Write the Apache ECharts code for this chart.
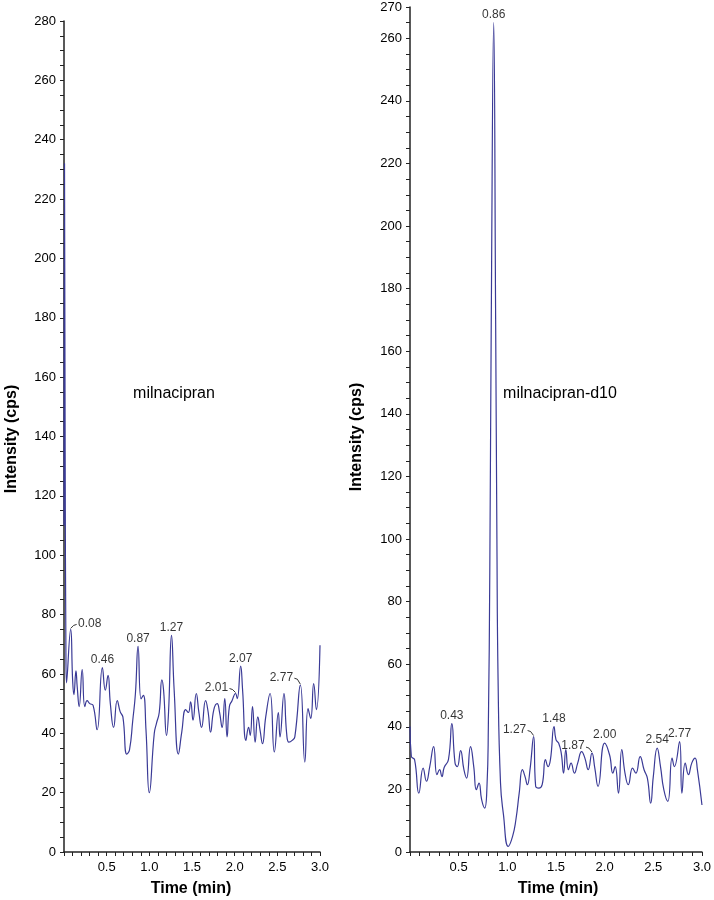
<!DOCTYPE html>
<html>
<head>
<meta charset="utf-8">
<title>milnacipran chromatograms</title>
<script src="https://cdn.jsdelivr.net/npm/echarts@6/dist/echarts.min.js"></script>
<style>
  html, body { margin: 0; padding: 0; background: #fff; }
  #chart { width: 714px; height: 900px; }
</style>
</head>
<body>
<div id="chart"></div>
<script>
// time axis ticks (min)
var timeTicks = [0.5, 1.0, 1.5, 2.0, 2.5, 3.0];

// milnacipran trace
var leftTime = [0, 0.006, 0.014, 0.022, 0.03, 0.078, 0.101, 0.116, 0.14, 0.155, 0.178, 0.213, 0.244, 0.271, 0.302,
    0.341, 0.388, 0.45, 0.484, 0.516, 0.543, 0.581, 0.624, 0.659, 0.69, 0.736, 0.767, 0.806, 0.837, 0.868,
    0.903, 0.93, 0.961, 1.0, 1.058, 1.085, 1.116, 1.147, 1.167, 1.202, 1.225, 1.26, 1.291, 1.341, 1.38,
    1.426, 1.457, 1.484, 1.512, 1.55, 1.581, 1.612, 1.659, 1.69, 1.717, 1.756, 1.795, 1.822, 1.853, 1.884,
    1.911, 1.938, 1.969, 2.01, 2.03, 2.07, 2.093, 2.132, 2.163, 2.182, 2.209, 2.24, 2.271, 2.298, 2.326,
    2.364, 2.415, 2.465, 2.512, 2.531, 2.578, 2.609, 2.636, 2.674, 2.705, 2.77, 2.822, 2.86, 2.891, 2.926,
    2.957, 3.0];
var leftIntensity = [110, 232, 130, 70, 57, 75, 58, 53, 61, 55.6, 49, 61.5, 49, 51, 50,
    49.4, 41.2, 62.1, 54.5, 59.5, 50, 42, 51, 47.2, 45.5, 33, 34.3, 44.4, 53.4, 69.3,
    51.6, 52.8, 41, 20, 40, 43.5, 47, 58, 54.5, 39.3, 47, 73, 54.5, 33, 40.4,
    48, 47, 50.6, 44.4, 53.4, 47, 42, 51, 47, 40.4, 48, 50, 47.2, 42, 51.7,
    38.8, 49, 51, 53.4, 51.7, 62.6, 54.5, 37.6, 42, 39.3, 49, 37, 45.5, 41, 36.5,
    45.5, 53.4, 33.7, 47, 38.8, 53.4, 40, 37, 37.6, 38.8, 56.2, 30.3, 48.3, 45, 56.7,
    48, 69.7];

// milnacipran-d10 trace
var rightTime = [0, 0.014, 0.047, 0.091, 0.135, 0.169, 0.203, 0.243, 0.277, 0.304, 0.328, 0.351, 0.395, 0.43, 0.463,
    0.486, 0.52, 0.554, 0.581, 0.622, 0.655, 0.682, 0.709, 0.736, 0.767, 0.791, 0.805, 0.82, 0.835, 0.86,
    0.88, 0.893, 0.905, 0.93, 0.96, 1.01, 1.054, 1.088, 1.122, 1.155, 1.182, 1.206, 1.233, 1.27, 1.291,
    1.324, 1.358, 1.392, 1.419, 1.443, 1.48, 1.5, 1.527, 1.554, 1.578, 1.601, 1.628, 1.655, 1.689, 1.723,
    1.764, 1.797, 1.831, 1.87, 1.899, 1.932, 2.0, 2.051, 2.084, 2.108, 2.142, 2.176, 2.209, 2.243, 2.287,
    2.321, 2.365, 2.405, 2.439, 2.473, 2.5, 2.54, 2.574, 2.608, 2.649, 2.693, 2.716, 2.77, 2.794, 2.828,
    2.861, 2.895, 2.929, 2.953, 3.0];
var rightIntensity = [40.1, 30.5, 29.5, 18.8, 26.8, 22.6, 27.3, 33.7, 24.7, 26.3, 24.1, 27, 29.5, 41, 28.4,
    27.3, 32.4, 26.3, 23.6, 33.7, 27.3, 19.9, 22, 16.7, 14, 21, 40, 90, 170, 265,
    170, 100, 55, 22, 12, 1.8, 5, 10.3, 18.8, 26.3, 24.1, 21.5, 26.3, 36.9, 21,
    20.4, 21.5, 29.5, 27.3, 29.5, 40.1, 35.9, 34.8, 31.6, 25.2, 32.7, 26.3, 28.4, 25.2, 28.4,
    32.1, 30, 26.3, 31.6, 26.8, 21, 34.8, 31, 25.2, 27.3, 18.8, 32.7, 25.2, 21.5, 26.8,
    25.2, 30.5, 26.3, 23.6, 15.6, 24.1, 33.2, 27.3, 19.9, 16.2, 30, 27.3, 35.3, 18.8, 28.4,
    24.7, 28.4, 30, 26.3, 15];

// annotated peaks
var leftPeakTime = [0.078, 0.45, 0.868, 1.26, 2.01, 2.07, 2.77];
var leftPeakValue = [75, 62.1, 69.3, 73, 53.4, 62.6, 56.2];
var leftPeakText = ['0.08', '0.46', '0.87', '1.27', '2.01', '2.07', '2.77'];

var rightPeakTime = [0.43, 0.86, 1.27, 1.48, 1.87, 2.0, 2.54, 2.77];
var rightPeakValue = [41, 265, 36.9, 40.1, 31.6, 34.8, 33.2, 35.3];
var rightPeakText = ['0.43', '0.86', '1.27', '1.48', '1.87', '2.00', '2.54', '2.77'];

// labels that sit beside their peak with a small leader line (px shift)
var leaderShift = [
    { '0.08': [19, 2], '2.01': [-19, 2], '2.77': [-19, 0] },
    { '1.27': [-19, 1], '1.87': [-19, 1] }
];

var lineColor = '#3a3a96';
var fontFam = '"Liberation Sans", Arial, sans-serif';

function zip(xs, ys) {
    var out = [];
    for (var i = 0; i < xs.length; i++) out.push([xs[i], ys[i]]);
    return out;
}

function peakData(xs, ys, txt) {
    var out = [];
    for (var i = 0; i < xs.length; i++) out.push({ value: [xs[i], ys[i]], name: txt[i] });
    return out;
}

function xAxisFor(idx) {
    return {
        type: 'value', gridIndex: idx, min: 0, max: 3, interval: 0.1,
        axisLine: { show: true, onZero: false, lineStyle: { color: '#222', width: 1.5 } },
        axisTick: { show: true, length: 4, lineStyle: { color: '#222' } },
        axisLabel: {
            margin: 9, fontSize: 13, color: '#000', fontFamily: fontFam,
            formatter: function (v) {
                for (var i = 0; i < timeTicks.length; i++) {
                    if (Math.abs(v - timeTicks[i]) < 1e-6) return timeTicks[i].toFixed(1);
                }
                return '';
            }
        },
        splitLine: { show: false }
    };
}

function yAxisFor(idx, max) {
    return {
        type: 'value', gridIndex: idx, min: 0, max: max, interval: 5,
        axisLine: { show: true, lineStyle: { color: '#222', width: 1.5 } },
        axisTick: { show: true, length: 4, lineStyle: { color: '#222' } },
        axisLabel: {
            margin: 8, fontSize: 13, color: '#000', fontFamily: fontFam,
            formatter: function (v) {
                return (v % 20 === 0 || v === max) ? String(v) : '';
            }
        },
        splitLine: { show: false }
    };
}

function peakSeries(idx, data, shifts) {
    return {
        type: 'scatter', xAxisIndex: idx, yAxisIndex: idx,
        data: data, symbolSize: 0, silent: true, z: 5,
        label: {
            show: true, position: 'top', distance: 2,
            formatter: '{b}', fontSize: 12, color: '#000', fontFamily: fontFam
        },
        labelLayout: function (p) {
            var s = shifts[data[p.dataIndex].name];
            return s ? { dx: s[0], dy: s[1] } : {};
        }
    };
}

var staticText = [
    { type: 'text', x: 12, y: 439, rotation: Math.PI / 2,
      style: { text: 'Intensity (cps)', font: 'bold 16px ' + fontFam, fill: '#000', align: 'center', verticalAlign: 'middle' } },
    { type: 'text', x: 357, y: 437, rotation: Math.PI / 2,
      style: { text: 'Intensity (cps)', font: 'bold 16px ' + fontFam, fill: '#000', align: 'center', verticalAlign: 'middle' } },
    { type: 'text', x: 191, y: 889,
      style: { text: 'Time (min)', font: 'bold 16px ' + fontFam, fill: '#000', align: 'center', verticalAlign: 'middle' } },
    { type: 'text', x: 558, y: 889,
      style: { text: 'Time (min)', font: 'bold 16px ' + fontFam, fill: '#000', align: 'center', verticalAlign: 'middle' } },
    { type: 'text', x: 174, y: 394,
      style: { text: 'milnacipran', font: '16px ' + fontFam, fill: '#000', align: 'center', verticalAlign: 'middle' } },
    { type: 'text', x: 560, y: 394,
      style: { text: 'milnacipran-d10', font: '16px ' + fontFam, fill: '#000', align: 'center', verticalAlign: 'middle' } }
];

var myChart = echarts.init(document.getElementById('chart'));
var option = {
    backgroundColor: '#fff',
    animation: false,
    grid: [
        { left: 64, width: 256, top: 21, bottom: 48 },
        { left: 410, right: 9, top: 7, bottom: 48 }
    ],
    xAxis: [xAxisFor(0), xAxisFor(1)],
    yAxis: [yAxisFor(0, 280), yAxisFor(1, 270)],
    series: [
        {
            type: 'line', xAxisIndex: 0, yAxisIndex: 0, data: zip(leftTime, leftIntensity),
            showSymbol: false, smooth: 0.5, lineStyle: { color: lineColor, width: 1.2 }
        },
        {
            type: 'line', xAxisIndex: 1, yAxisIndex: 1, data: zip(rightTime, rightIntensity),
            showSymbol: false, smooth: 0.5, lineStyle: { color: lineColor, width: 1.2 }
        },
        peakSeries(0, peakData(leftPeakTime, leftPeakValue, leftPeakText), leaderShift[0]),
        peakSeries(1, peakData(rightPeakTime, rightPeakValue, rightPeakText), leaderShift[1])
    ],
    graphic: staticText
};
myChart.setOption(option);

// leader lines: from the peak (through the axes) to the side of its shifted label
var leaders = [];
[[leftPeakTime, leftPeakValue, leftPeakText], [rightPeakTime, rightPeakValue, rightPeakText]].forEach(function (pk, g) {
    for (var i = 0; i < pk[0].length; i++) {
        var s = leaderShift[g][pk[2][i]];
        if (!s) continue;
        var p = myChart.convertToPixel({ gridIndex: g }, [pk[0][i], pk[1][i]]);
        var ly = p[1] - 9 + s[1];          // label centre y
        var ex = p[0] + s[0] + (s[0] < 0 ? 13 : -13);
        var ey = ly + 2;
        leaders.push({
            type: 'polyline', silent: true, z: 10,
            shape: { points: [[p[0], p[1] - 1], [(p[0] + ex) / 2, ey + 1], [ex, ey]] },
            style: { stroke: '#000', lineWidth: 0.8, fill: null }
        });
    }
});
myChart.setOption({ graphic: staticText.concat(leaders) });
</script>
</body>
</html>
